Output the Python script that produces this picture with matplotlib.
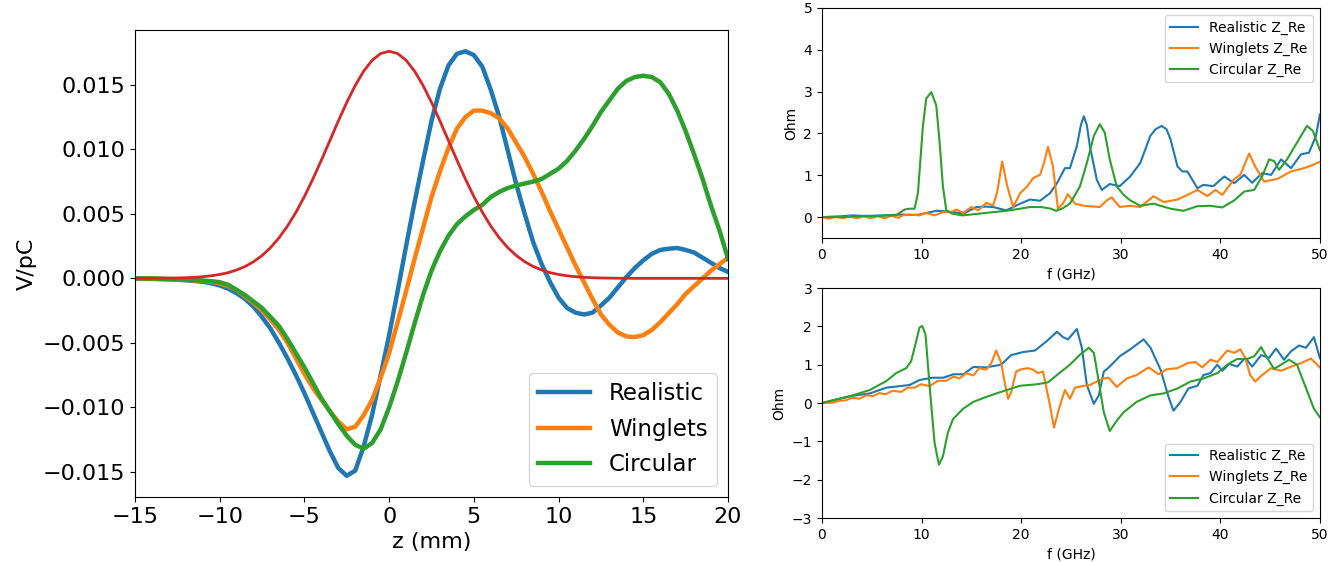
import numpy as np
import matplotlib
matplotlib.use("Agg")
import matplotlib.pyplot as plt

plt.rcParams["lines.solid_joinstyle"] = "round"

# --- wake potential vs longitudinal position (0.5 mm grid) ---
Z_MM = np.arange(-15.0, 20.25, 0.5)

WAKE_REALISTIC = [
    -0.00002, -0.00003, -0.00004, -0.00006, -0.00008, -0.00011, -0.00015, -0.0002, -0.00027, -0.00038,
    -0.00055, -0.0008, -0.00115, -0.0016, -0.0022, -0.0030, -0.0039, -0.0050, -0.0062, -0.0075,
    -0.0089, -0.0104, -0.0119, -0.0134, -0.0147, -0.0153, -0.0149, -0.0130, -0.01055, -0.0075,
    -0.0044, -0.0010, 0.0025, 0.0059, 0.0091, 0.0122, 0.0147, 0.0165, 0.0174, 0.0176,
    0.0173, 0.0164, 0.0146, 0.0125, 0.0099, 0.0073, 0.0050, 0.0028, 0.0011, -0.0003,
    -0.0015, -0.0023, -0.00266, -0.0028, -0.00266, -0.0021, -0.0015, -0.0007, 0.0001, 0.0008,
    0.0014, 0.0019, 0.0022, 0.0023, 0.00235, 0.0022, 0.0020, 0.0016, 0.0012, 0.0008,
    0.0005,
]
WAKE_WINGLETS = [
    -0.00001, -0.00002, -0.00003, -0.00004, -0.00006, -0.00008, -0.00011, -0.00015, -0.0002, -0.00027,
    -0.00038, -0.0006, -0.0009, -0.0014, -0.0019, -0.0025, -0.0032, -0.0040, -0.0050, -0.0062,
    -0.0074, -0.0085, -0.0094, -0.0103, -0.0111, -0.0117, -0.0115, -0.0106, -0.0094, -0.0077,
    -0.0058, -0.0034, -0.0010, 0.0015, 0.0039, 0.0063, 0.0083, 0.0101, 0.0116, 0.0125,
    0.0130, 0.0130, 0.0128, 0.0124, 0.0116, 0.0105, 0.0094, 0.0081, 0.0067, 0.0052,
    0.0038, 0.0024, 0.0010, -0.0003, -0.0016, -0.0028, -0.0036, -0.0042, -0.0045, -0.00455,
    -0.0044, -0.0040, -0.0034, -0.0027, -0.0020, -0.0012, -0.0006, 0.0000, 0.0006, 0.0011,
    0.0016,
]
WAKE_CIRCULAR = [
    -0.00001, -0.00001, -0.00002, -0.00003, -0.00005, -0.00007, -0.0001, -0.00013, -0.00017, -0.00022,
    -0.0003, -0.0005, -0.0009, -0.0013, -0.0018, -0.0023, -0.0030, -0.0037, -0.0047, -0.0058,
    -0.0069, -0.0081, -0.0093, -0.0103, -0.0113, -0.0122, -0.0129, -0.0132, -0.01275, -0.0117,
    -0.0100, -0.0080, -0.0058, -0.0035, -0.0013, 0.0006, 0.0021, 0.0033, 0.0042, 0.0048,
    0.0053, 0.0057, 0.0063, 0.0067, 0.0070, 0.0072, 0.00735, 0.0075, 0.0077, 0.0081,
    0.0085, 0.0091, 0.0099, 0.0108, 0.0118, 0.0129, 0.0138, 0.0147, 0.0153, 0.0156,
    0.0157, 0.0156, 0.0152, 0.0143, 0.0130, 0.0114, 0.0096, 0.0077, 0.0056, 0.0037,
    0.0015,
]
BUNCH = [
    0.0, 0.0, 0.00001, 0.00001, 0.00002, 0.00003, 0.00005, 0.00008, 0.00013, 0.0002,
    0.0003, 0.00044, 0.00065, 0.00092, 0.00129, 0.00177, 0.00238, 0.00314, 0.00405, 0.00512,
    0.00634, 0.0077, 0.00916, 0.01067, 0.01219, 0.01364, 0.01495, 0.01606, 0.0169, 0.01742,
    0.0176, 0.01742, 0.0169, 0.01606, 0.01495, 0.01364, 0.01219, 0.01067, 0.00916, 0.0077,
    0.00634, 0.00512, 0.00405, 0.00314, 0.00238, 0.00177, 0.00129, 0.00092, 0.00065, 0.00044,
    0.0003, 0.0002, 0.00013, 0.00008, 0.00005, 0.00003, 0.00002, 0.00001, 0.00001, 0.0,
    0.0, 0.0, 0.0, 0.0, 0.0, 0.0, 0.0, 0.0, 0.0, 0.0,
    0.0,
]

# --- impedance, upper panel ---
TOP_REAL_F = [0, 1, 2, 3, 4, 5, 6, 7, 8, 9, 9.8, 10.5, 11.5, 12.3, 13.2, 14.2, 15.5, 16.5, 17.2,
              18.5, 19.9, 20.9, 21.9, 22.9, 23.6, 24.4, 24.9, 25.6, 26.0, 26.3, 26.6, 26.9, 27.6,
              28.1, 28.9, 29.9, 30.95, 31.96, 32.97, 33.5, 34.1, 34.6, 35.0, 35.7, 36.2, 36.7,
              37.7, 38.3, 39.3, 40.4, 41.4, 42.4, 43.2, 44.2, 45.1, 46.1, 47.1, 48.1, 48.9, 49.6, 50]
TOP_REAL_Z = [0.0, 0.01, 0.02, 0.04, 0.03, 0.03, 0.04, 0.05, 0.06, 0.05, 0.06, 0.1, 0.15, 0.14, 0.12,
              0.08, 0.24, 0.25, 0.24, 0.16, 0.32, 0.42, 0.39, 0.57, 0.81, 1.17, 1.17, 1.7, 2.2, 2.41,
              2.2, 1.7, 0.89, 0.65, 0.79, 0.74, 0.97, 1.29, 1.94, 2.1, 2.18, 2.1, 1.86, 1.21, 1.09,
              1.09, 0.69, 0.77, 0.74, 0.97, 0.81, 1.01, 0.82, 1.05, 1.01, 1.38, 1.17, 1.5, 1.54,
              1.94, 2.45]

TOP_WING_F = [0, 0.7, 1.4, 2.1, 2.8, 3.5, 4.2, 4.9, 5.6, 6.3, 7.0, 7.7, 8.1, 8.8, 9.8, 10.5, 11.3,
              12.2, 13.0, 13.5, 14.2, 15.0, 15.7, 16.5, 17.2, 17.6, 18.1, 18.6, 19.2, 19.9, 20.6,
              21.2, 21.9, 22.3, 22.7, 23.2, 23.7, 24.2, 24.7, 25.4, 26.3, 27.9, 28.6, 29.1, 29.9,
              30.95, 31.96, 33.3, 34.3, 35.7, 36.7, 37.7, 38.7, 39.5, 40.2, 41.4, 42.0, 42.9, 43.5,
              44.4, 45.7, 47.1, 48.4, 49.1, 50]
TOP_WING_Z = [0.0, -0.04, 0.01, -0.03, 0.02, -0.03, 0.02, -0.03, 0.02, -0.03, 0.03, -0.02, 0.04,
              0.06, 0.04, 0.1, 0.04, 0.12, 0.12, 0.18, 0.1, 0.24, 0.16, 0.34, 0.28, 0.6, 1.33, 0.75,
              0.24, 0.57, 0.73, 0.93, 1.01, 1.3, 1.68, 1.21, 0.2, 0.32, 0.55, 0.32, 0.27, 0.24, 0.4,
              0.47, 0.24, 0.27, 0.24, 0.5, 0.36, 0.42, 0.53, 0.65, 0.5, 0.65, 0.53, 0.91, 1.01,
              1.52, 1.21, 0.85, 0.91, 1.09, 1.17, 1.23, 1.32]

TOP_CIRC_F = [0, 2, 4, 6, 7.5, 8.3, 8.8, 9.3, 9.64, 10.14, 10.47, 10.98, 11.48, 11.82, 12.15, 12.49,
              13.1, 14.1, 16.5, 18.5, 19.9, 20.9, 22.0, 23.0, 23.5, 24.1, 24.9, 25.9, 26.6, 27.3,
              27.9, 28.4, 28.9, 29.6, 30.3, 30.95, 31.96, 33.3, 35.0, 36.3, 37.7, 39.0, 40.2, 41.4,
              42.4, 43.4, 44.2, 44.9, 45.4, 45.9, 46.7, 47.7, 48.7, 49.3, 50]
TOP_CIRC_Z = [0.0, 0.0, 0.02, 0.03, 0.05, 0.18, 0.2, 0.2, 0.57, 2.18, 2.83, 2.99, 2.67, 1.78, 0.73,
              0.16, 0.08, 0.04, 0.1, 0.15, 0.2, 0.24, 0.24, 0.2, 0.15, 0.2, 0.32, 0.73, 1.29, 1.94,
              2.22, 2.02, 1.38, 0.73, 0.53, 0.4, 0.27, 0.32, 0.2, 0.15, 0.26, 0.27, 0.23, 0.4, 0.61,
              0.65, 0.97, 1.38, 1.34, 1.13, 1.38, 1.78, 2.18, 2.06, 1.6]

# --- impedance, lower panel ---
BOT_REAL_F = [0, 1.74, 3.1, 4.8, 6.45, 8.1, 8.8, 9.8, 11.1, 12.2, 13.2, 14.2, 15.2, 16.5, 18.0, 19.0,
              20.2, 21.4, 22.6, 23.6, 24.2, 24.7, 25.6, 26.1, 26.6, 27.3, 27.8, 28.3, 28.9, 29.9,
              30.95, 32.3, 33.0, 34.0, 34.8, 35.3, 36.0, 36.8, 37.7, 38.3, 39.0, 39.7, 40.2, 40.9,
              41.7, 42.5, 43.2, 44.1, 44.9, 45.6, 46.4, 47.1, 47.9, 48.6, 49.4, 50]
BOT_REAL_Z = [0.0, 0.11, 0.19, 0.25, 0.4, 0.45, 0.47, 0.6, 0.66, 0.66, 0.75, 0.75, 0.94, 0.93, 1.0,
              1.25, 1.33, 1.37, 1.62, 1.86, 1.72, 1.66, 1.93, 1.44, 0.47, -0.02, 0.2, 0.82, 0.95,
              1.22, 1.4, 1.66, 1.44, 0.87, 0.16, -0.2, 0.03, 0.38, 0.45, 0.73, 0.78, 1.0, 0.84, 1.02,
              0.95, 1.18, 0.95, 1.25, 1.18, 1.42, 1.13, 1.35, 1.5, 1.44, 1.72, 1.17]

BOT_WING_F = [0, 1.07, 1.74, 2.4, 3.1, 3.76, 4.43, 5.1, 5.77, 6.4, 7.1, 7.96, 8.6, 9.3, 9.96, 10.8,
              11.65, 12.5, 13.2, 13.8, 14.5, 15.2, 15.8, 16.5, 17.0, 17.5, 18.0, 18.4, 18.7, 19.0,
              19.5, 20.0, 20.7, 21.2, 21.7, 22.2, 22.9, 23.3, 23.8, 24.4, 24.9, 25.4, 26.3, 26.9,
              27.6, 28.3, 28.8, 29.6, 30.6, 31.6, 32.8, 33.8, 34.6, 35.7, 36.7, 37.5, 38.2, 39.0,
              39.7, 40.7, 41.4, 42.0, 42.5, 43.0, 43.5, 44.2, 45.1, 46.1, 47.1, 48.1, 49.1, 50]
BOT_WING_Z = [0.0, 0.01, 0.06, 0.07, 0.14, 0.11, 0.2, 0.18, 0.26, 0.23, 0.32, 0.29, 0.4, 0.4, 0.49,
              0.44, 0.58, 0.58, 0.69, 0.64, 0.78, 0.72, 0.91, 0.87, 1.04, 1.37, 1.04, 0.47, 0.11,
              0.29, 0.82, 0.88, 0.91, 0.87, 0.78, 0.82, -0.06, -0.64, -0.15, 0.34, 0.11, 0.4, 0.45,
              0.47, 0.56, 0.64, 0.66, 0.42, 0.64, 0.73, 0.93, 0.75, 0.88, 0.91, 1.04, 1.07, 0.93,
              1.13, 1.07, 1.37, 1.31, 1.4, 1.18, 0.73, 0.56, 0.73, 0.91, 0.84, 0.95, 1.04, 1.16, 0.93]

BOT_CIRC_F = [0, 1.74, 3.1, 4.8, 6.45, 7.45, 8.46, 8.96, 9.47, 9.8, 10.07, 10.4, 10.64, 10.98, 11.31,
              11.75, 12.15, 12.65, 13.16, 14.17, 15.2, 16.5, 18.2, 19.9, 21.6, 22.7, 23.6, 24.9,
              25.9, 26.8, 27.3, 27.8, 28.3, 28.9, 29.6, 30.3, 31.6, 33.0, 34.3, 35.7, 37.0, 38.3,
              39.7, 40.7, 41.7, 42.7, 43.4, 44.1, 44.7, 45.4, 46.1, 46.9, 47.7, 48.75, 49.4, 50]
BOT_CIRC_Z = [0.0, 0.11, 0.2, 0.34, 0.57, 0.78, 0.91, 1.09, 1.62, 1.97, 2.01, 1.79, 1.0, -0.06,
              -1.04, -1.61, -1.39, -0.77, -0.42, -0.15, 0.03, 0.16, 0.31, 0.45, 0.49, 0.54, 0.73,
              1.0, 1.26, 1.44, 1.31, 0.56, -0.24, -0.73, -0.46, -0.24, 0.03, 0.2, 0.25, 0.38, 0.56,
              0.64, 0.78, 1.0, 1.15, 1.15, 1.22, 1.46, 1.18, 0.89, 1.0, 1.13, 1.0, 0.29, -0.15, -0.37]

LABELS = ["Realistic", "Winglets", "Circular"]
COLORS = ["tab:blue", "tab:orange", "tab:green"]

fig = plt.figure(figsize=(13.43, 5.63), dpi=100)

# wake potentials
ax = fig.add_axes([0.1005, 0.1172, 0.4416, 0.8295])
for wake, lab, col in zip([WAKE_REALISTIC, WAKE_WINGLETS, WAKE_CIRCULAR], LABELS, COLORS):
    ax.plot(Z_MM, wake, color=col, lw=3.2, label=lab)
ax.plot(Z_MM, BUNCH, color="tab:red", lw=2)
ax.set_xlim(-15, 20)
ax.set_xlabel("z (mm)", fontsize=16)
ax.set_ylabel("V/pC", fontsize=16)
ax.tick_params(labelsize=16)
ax.legend(loc="lower right", fontsize=16.5, handlelength=2.3, labelspacing=0.55)

# impedance panels
ax_top = fig.add_axes([0.612, 0.5773, 0.3708, 0.4085])
ax_bot = fig.add_axes([0.612, 0.0799, 0.3708, 0.4085])

top_sets = [(TOP_REAL_F, TOP_REAL_Z), (TOP_WING_F, TOP_WING_Z), (TOP_CIRC_F, TOP_CIRC_Z)]
bot_sets = [(BOT_REAL_F, BOT_REAL_Z), (BOT_WING_F, BOT_WING_Z), (BOT_CIRC_F, BOT_CIRC_Z)]

for (f, z), lab, col in zip(top_sets, LABELS, COLORS):
    ax_top.plot(f, z, color=col, label=lab + " Z_Re")
for (f, z), lab, col in zip(bot_sets, LABELS, COLORS):
    ax_bot.plot(f, z, color=col, label=lab + " Z_Re")

ax_top.set_xlim(0, 50)
ax_top.set_ylim(-0.5, 5)
ax_top.set_xlabel("f (GHz)")
ax_top.set_ylabel("Ohm")
ax_top.legend(loc="upper right")

ax_bot.set_xlim(0, 50)
ax_bot.set_ylim(-3, 3)
ax_bot.set_xlabel("f (GHz)")
ax_bot.set_ylabel("Ohm")
ax_bot.legend(loc="lower right")

fig.savefig("out.png", dpi=100)
